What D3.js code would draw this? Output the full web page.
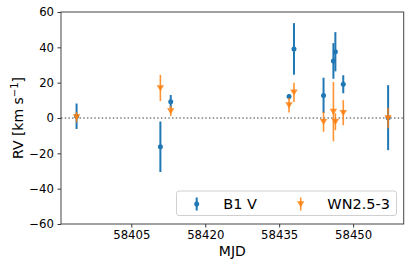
<!DOCTYPE html>
<html><head><meta charset="utf-8">
<script src="https://cdn.jsdelivr.net/npm/d3@7"></script>
<style>body{margin:0;background:#fff}svg{display:block;font-family:"DejaVu Sans",sans-serif}</style>
</head><body><svg id="c" width="416" height="261"></svg>
<script>
const mjd = [58393.9, 58410.9, 58413.0, 58437.0, 58438.0, 58444.0, 58446.0, 58446.4, 58448.0, 58457.1];
const rvB1V = [1.0, -16.3, 9.2, 12.1, 39.1, 12.8, 32.3, 37.5, 19.1, 0.2];
const errB1V = [7.2, 14.3, 3.8, 1.5, 14.6, 10.0, 10.1, 11.1, 5.1, 18.4];
const rvWN = [0.5, 17.0, 4.0, 7.3, 14.5, -2.1, 3.6, -2.1, 3.0, 0.0];
const errWN = [3.0, 7.4, 2.8, 4.2, 5.5, 5.7, 16.8, 4.8, 7.1, 5.8];
const xTicks = [58405, 58420, 58435, 58450];
const yTicks = [-60, -40, -20, 0, 20, 40, 60];
const seriesNames = ["B1 V", "WN2.5-3"];
const colors = ["#1f77b4", "#ff7f0e"];

const svg = d3.select("#c");
const m = {l: 61, r: 12.3, t: 12, b: 37};
const W = 416, H = 261;
const x = d3.scaleLinear().domain([58390.74, 58460.26]).range([m.l, W - m.r]);
const y = d3.scaleLinear().domain([-60, 60]).range([H - m.b, m.t]);

// zero line
svg.append("line").attr("x1", m.l).attr("x2", W - m.r).attr("y1", y(0)).attr("y2", y(0))
  .attr("stroke", "#808080").attr("stroke-width", 1.5).attr("stroke-dasharray", "1.5,2.2");

function series(vals, errs, color, shape, bw, op) {
  const g = svg.append("g");
  mjd.forEach((d, i) => {
    g.append("line").attr("x1", x(d)).attr("x2", x(d))
      .attr("y1", y(vals[i] - errs[i])).attr("y2", y(vals[i] + errs[i]))
      .attr("stroke", color).attr("stroke-width", bw).attr("opacity", op);
    drawMarker(g, x(d), y(vals[i]), color, shape, op);
  });
}
function drawMarker(g, cx, cy, color, shape, op) {
  if (shape === "o") {
    g.append("circle").attr("cx", cx).attr("cy", cy).attr("r", 2.5).attr("fill", color).attr("opacity", op);
  } else {
    g.append("path").attr("d", `M${cx-3.7},${cy-2.8}L${cx+3.7},${cy-2.8}L${cx},${cy+3.3}Z`)
      .attr("fill", color).attr("opacity", op);
  }
}
series(rvB1V, errB1V, colors[0], "o", 2, 1);
series(rvWN, errWN, colors[1], "v", 1.6, 0.85);

// axes
const xa = svg.append("g").attr("transform", `translate(0,${H - m.b})`)
  .call(d3.axisBottom(x).tickValues(xTicks).tickFormat(d3.format("d")).tickSize(3.5).tickPadding(3.5));
const ya = svg.append("g").attr("transform", `translate(${m.l},0)`)
  .call(d3.axisLeft(y).tickValues(yTicks).tickFormat(d => d < 0 ? "\u2212" + Math.abs(d) : d).tickSize(3.5).tickPadding(3.5));
[xa, ya].forEach(a => {
  a.select(".domain").remove();
  a.selectAll("text").attr("font-size", 11.7).attr("fill", "#000").attr("font-family", "DejaVu Sans");
  a.selectAll("line").attr("stroke", "#000").attr("stroke-width", 0.8);
});
svg.append("rect").attr("x", m.l).attr("y", m.t).attr("width", W - m.r - m.l).attr("height", H - m.b - m.t)
  .attr("fill", "none").attr("stroke", "#444").attr("stroke-width", 1);

// labels
svg.append("text").attr("x", (m.l + W - m.r) / 2).attr("y", 256).attr("text-anchor", "middle")
  .attr("font-size", 14).text("MJD");
const yl = svg.append("text").attr("transform", `translate(22.5,${(m.t + H - m.b) / 2}) rotate(-90)`)
  .attr("text-anchor", "middle").attr("font-size", 14);
yl.append("tspan").text("RV [km s");
yl.append("tspan").attr("dy", -5).attr("font-size", 10).text("\u22121");
yl.append("tspan").attr("dy", 5).text("]");

// legend
const lg = svg.append("g");
lg.append("rect").attr("x", 176.5).attr("y", 191).attr("width", 220).attr("height", 24.5).attr("rx", 2.5)
  .attr("fill", "#fff").attr("fill-opacity", 0.8).attr("stroke", "#d0d0d0").attr("stroke-width", 1);
const lx = [196.7, 300.7], tx = [223.3, 327.3];
seriesNames.forEach((n, i) => {
  lg.append("line").attr("x1", lx[i]).attr("x2", lx[i]).attr("y1", 197.5).attr("y2", 210.5)
    .attr("stroke", colors[i]).attr("stroke-width", i ? 1.6 : 2).attr("opacity", i ? 0.85 : 1);
  drawMarker(lg, lx[i], 204, colors[i], i ? "v" : "o", i ? 0.85 : 1);
  lg.append("text").attr("x", tx[i]).attr("y", 208.5).attr("font-size", 14.5).text(n);
});
</script></body></html>
